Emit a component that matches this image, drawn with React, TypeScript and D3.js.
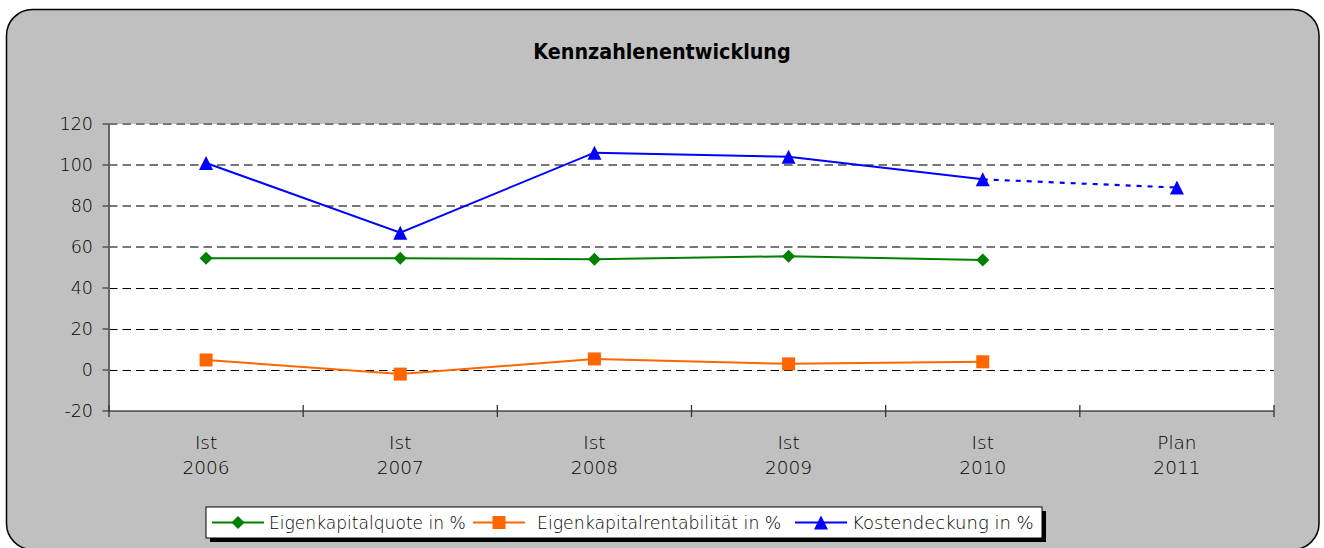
import React from "react";
import * as d3 from "d3";

const catTop = ["Ist", "Ist", "Ist", "Ist", "Ist", "Plan"];
const catYear = ["2006", "2007", "2008", "2009", "2010", "2011"];
const yTicks = [-20, 0, 20, 40, 60, 80, 100, 120];

const eigenkapitalquote = [54.5, 54.5, 54.0, 55.5, 53.7];
const eigenkapitalrentabilitaet = [4.9, -2.0, 5.4, 3.0, 4.0];
const kostendeckung = [101.0, 67.0, 106.0, 104.0, 93.0, 89.0];

const seriesNames = ["Eigenkapitalquote in %", "Eigenkapitalrentabilität in %", "Kostendeckung in %"];

const W = 1324, H = 548;
const PL = 109, PR = 1274, PT = 124, PB = 411;
const LIGHT = "'DejaVu Sans', 'Liberation Sans', sans-serif";
const TITLE_FONT = "'DejaVu Sans Condensed', 'Liberation Sans Narrow', 'DejaVu Sans', sans-serif";

const GREEN = "#008000", ORANGE = "#FF6600", BLUE = "#0000FF";

function diamond(cx: number, cy: number, r: number) {
  return `M${cx},${cy - r}L${cx + r},${cy}L${cx},${cy + r}L${cx - r},${cy}Z`;
}
function square(cx: number, cy: number, r: number) {
  return `M${cx - r},${cy - r}H${cx + r}V${cy + r}H${cx - r}Z`;
}
function triangle(cx: number, cy: number, r: number) {
  return `M${cx},${cy - r}L${cx + r},${cy + r}L${cx - r},${cy + r}Z`;
}

export default function App() {
  const x = d3.scaleBand<number>().domain(d3.range(catYear.length)).range([PL, PR]).padding(0);
  const y = d3.scaleLinear().domain([-20, 120]).range([PB, PT]);
  const cx = (i: number) => (x(i) as number) + x.bandwidth() / 2;
  const line = d3.line<number>().x((_, i) => cx(i)).y((d) => y(d));

  const kSolid = kostendeckung.slice(0, 5);
  const kDotted = d3.line<[number, number]>().x((d) => cx(d[0])).y((d) => y(d[1]))([
    [4, kostendeckung[4]],
    [5, kostendeckung[5]],
  ]) as string;

  const boundaries = d3.range(catYear.length + 1).map((i) => PL + i * x.bandwidth());

  // legend
  const LX = 206, LY = 507, LW = 836, LH = 31;
  const legendItems = [
    { name: seriesNames[0], color: GREEN, lx: 212, mk: diamond, r: 6.5, fs: 17.1 },
    { name: seriesNames[1], color: ORANGE, lx: 473, mk: square, r: 6.5, fs: 17.3 },
    { name: seriesNames[2], color: BLUE, lx: 795, mk: triangle, r: 7, fs: 18 },
  ];

  return (
    <svg width={W} height={H} style={{ position: "absolute", left: 0, top: 0, display: "block" }}>
      <rect x={0} y={0} width={W} height={H} fill="#ffffff" />
      <rect x={6.5} y={9.5} width={1312.5} height={540} rx={26} ry={26} fill="#C0C0C0" stroke="#000" strokeWidth={1.5} />
      <text x={662} y={59} textAnchor="middle" fontFamily={TITLE_FONT} fontWeight="bold" fontSize={21.3} fill="#000">
        Kennzahlenentwicklung
      </text>

      <rect x={PL} y={PT} width={PR - PL} height={PB - PT} fill="#fff" />

      {yTicks.filter((t) => t > -20).map((t) => (
        <line key={"g" + t} x1={PL} x2={PR}
          y1={t >= 60 ? y(t) : Math.round(y(t)) + 0.5} y2={t >= 60 ? y(t) : Math.round(y(t)) + 0.5}
          stroke={t >= 60 ? "#777" : "#000"} strokeWidth={t >= 60 ? 1.8 : 1} strokeDasharray="8.5,5" />
      ))}

      {/* y axis */}
      <line x1={PL} x2={PL} y1={PT} y2={PB} stroke="#666" strokeWidth={2} />
      {yTicks.map((t) => (
        <g key={"yt" + t}>
          <line x1={PL - 6.5} x2={PL} y1={y(t)} y2={y(t)} stroke="#555" strokeWidth={1.5} />
          <text x={93} y={y(t) + 6} textAnchor="end" fontFamily={LIGHT} fontWeight={200} fontSize={17.5} fill="#000">
            {t}
          </text>
        </g>
      ))}

      {/* x axis */}
      <line x1={PL} x2={PR} y1={PB} y2={PB} stroke="#000" strokeWidth={1.2} />
      {boundaries.map((bx, i) => (
        <line key={"xt" + i} x1={bx} x2={bx} y1={PB - 6} y2={PB + 6} stroke="#333" strokeWidth={1.3} />
      ))}
      {catYear.map((c, i) => (
        <text key={"xl" + i} x={cx(i)} textAnchor="middle" fontFamily={LIGHT} fontWeight={200} fontSize={18.5} fill="#000">
          <tspan x={cx(i)} y={449}>{catTop[i]}</tspan>
          <tspan x={cx(i)} y={474}>{c}</tspan>
        </text>
      ))}

      {/* series */}
      <path d={line(eigenkapitalquote) as string} fill="none" stroke={GREEN} strokeWidth={2} />
      <path d={line(eigenkapitalrentabilitaet) as string} fill="none" stroke={ORANGE} strokeWidth={2} />
      <path d={line(kSolid) as string} fill="none" stroke={BLUE} strokeWidth={2} />
      <path d={kDotted} fill="none" stroke={BLUE} strokeWidth={2.2} strokeDasharray="5,6" />

      {eigenkapitalquote.map((v, i) => (
        <path key={"m1" + i} d={diamond(cx(i), y(v), 6.5)} fill={GREEN} />
      ))}
      {eigenkapitalrentabilitaet.map((v, i) => (
        <path key={"m2" + i} d={square(cx(i), y(v), 6.5)} fill={ORANGE} />
      ))}
      {kostendeckung.map((v, i) => (
        <path key={"m3" + i} d={triangle(cx(i), y(v), 7)} fill={BLUE} />
      ))}

      {/* legend */}
      <rect x={LX + 4} y={LY + 4} width={LW} height={LH} fill="#000" />
      <rect x={LX} y={LY} width={LW} height={LH} fill="#fff" stroke="#000" strokeWidth={1} />
      {legendItems.map((it, i) => (
        <g key={"lg" + i}>
          <line x1={it.lx} x2={it.lx + 52} y1={LY + LH / 2} y2={LY + LH / 2} stroke={it.color} strokeWidth={2} />
          <path d={it.mk(it.lx + 26, LY + LH / 2, it.r)} fill={it.color} />
          <text x={it.lx + (i === 1 ? 64 : 57)} y={LY + LH / 2 + 6.5} fontFamily={LIGHT} fontWeight={200} fontSize={it.fs} fill="#000">
            {it.name}
          </text>
        </g>
      ))}
    </svg>
  );
}
